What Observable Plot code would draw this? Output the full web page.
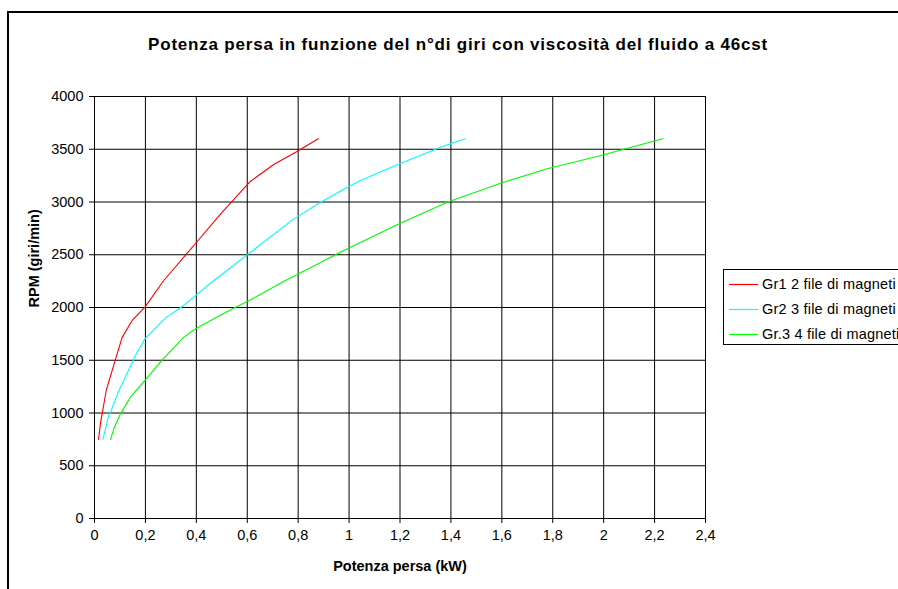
<!DOCTYPE html>
<html>
<head>
<meta charset="utf-8">
<script src="https://cdn.jsdelivr.net/npm/d3@7"></script>
<script src="https://cdn.jsdelivr.net/npm/@observablehq/plot@0.6"></script>
<style>
  html, body { margin: 0; padding: 0; background: #fff; overflow: hidden; }
  #wrap { position: relative; width: 898px; height: 589px; font-family: "Liberation Sans", Arial, sans-serif; }
  #frame { position: absolute; left: 7px; top: 11px; width: 1000px; height: 700px; border: 2px solid #000; box-sizing: border-box; }
  #title { position: absolute; left: 0; width: 916px; top: 35px; text-align: center; font-weight: bold; font-size: 17px; letter-spacing: 0.8px; color: #000; white-space: nowrap; }
  #chart { position: absolute; left: 0; top: 0; }
  #legend { position: absolute; left: 723px; top: 269px; width: 300px; height: 76px; border: 1px solid #000; box-sizing: border-box; background: #fff; }
  #legend svg { position: absolute; left: 0; top: 0; }
</style>
</head>
<body>
<div id="wrap">
  <div id="frame"></div>
  <div id="chart"></div>
  <div id="title">Potenza persa in funzione del n°di giri con viscosità del fluido a 46cst</div>
  <div id="legend"></div>
</div>
<script>
const seriesNames = ["Gr1 2 file di magneti", "Gr2 3 file di magneti", "Gr.3 4 file di magneti"];
const seriesColors = ["#ff0000", "#00ffff", "#00ff00"];

const gr1Kw  = [0.016, 0.024, 0.030, 0.046, 0.085, 0.109, 0.148, 0.198, 0.272, 0.400, 0.500, 0.613, 0.704, 0.790, 0.879];
const gr1Rpm = [750, 913, 992, 1213, 1529, 1719, 1877, 2003, 2256, 2616, 2900, 3197, 3355, 3472, 3600];

const gr2Kw  = [0.033, 0.056, 0.063, 0.096, 0.161, 0.198, 0.279, 0.344, 0.469, 0.613, 0.783, 0.888, 0.993, 1.045, 1.182, 1.359, 1.455];
const gr2Rpm = [750, 976, 1008, 1213, 1545, 1703, 1902, 2009, 2256, 2524, 2840, 2998, 3140, 3204, 3346, 3519, 3600];

const gr3Kw  = [0.063, 0.076, 0.102, 0.141, 0.200, 0.266, 0.351, 0.397, 0.456, 0.554, 0.613, 0.750, 0.979, 1.182, 1.385, 1.595, 1.778, 1.974, 2.086, 2.232];
const gr3Rpm = [750, 850, 992, 1150, 1315, 1504, 1719, 1798, 1877, 2003, 2073, 2256, 2540, 2777, 2998, 3178, 3315, 3431, 3504, 3600];

const xTicks = [0, 0.2, 0.4, 0.6, 0.8, 1, 1.2, 1.4, 1.6, 1.8, 2, 2.2, 2.4];
const yTicks = [0, 500, 1000, 1500, 2000, 2500, 3000, 3500, 4000];
const xLabel = "Potenza persa (kW)";
const yLabel = "RPM (giri/min)";

const groups = [[gr1Kw, gr1Rpm], [gr2Kw, gr2Rpm], [gr3Kw, gr3Rpm]];
const data = groups.flatMap(([kw, rpm], i) => kw.map((k, j) => ({ kw: k, rpm: rpm[j], s: seriesNames[i] })));

const fmtX = d => String(d).replace(".", ",");
const fmtY = d => String(d);

const plot = Plot.plot({
  width: 898,
  height: 589,
  marginLeft: 94,
  marginRight: 193,
  marginTop: 96,
  marginBottom: 71,
  style: { fontFamily: '"Liberation Sans", Arial, sans-serif', fontSize: "14.5px", color: "#000", background: "transparent" },
  x: { domain: [0, 2.4], ticks: xTicks, tickFormat: fmtX, label: null },
  y: { domain: [0, 4000], ticks: yTicks, tickFormat: fmtY, label: null },
  color: { domain: seriesNames, range: seriesColors },
  marks: [
    Plot.gridX(xTicks, { stroke: "#000", strokeOpacity: 1 }),
    Plot.gridY(yTicks, { stroke: "#000", strokeOpacity: 1 }),
    Plot.axisX({ ticks: xTicks, tickFormat: fmtX, tickSize: 5, tickPadding: 6, fontSize: 14.5, label: null }),
    Plot.axisY({ ticks: yTicks, tickFormat: fmtY, tickSize: 5, tickPadding: 6, fontSize: 14.5, label: null }),
    Plot.ruleY([0], { stroke: "#000" }),
    Plot.ruleX([0], { stroke: "#000" }),
    Plot.line(data, { x: "kw", y: "rpm", z: "s", stroke: "s", strokeWidth: 1.1 }),
    Plot.text([xLabel], { frameAnchor: "bottom", dy: 52, fontWeight: "bold", fontSize: 14.5, letterSpacing: "0.5px" }),
    Plot.text([yLabel], { frameAnchor: "left", dx: -60, rotate: -90, fontWeight: "bold", fontSize: 14.5 })
  ]
});
document.getElementById("chart").appendChild(plot);

// Legend (drawn as a small SVG)
const ns = "http://www.w3.org/2000/svg";
const lsvg = document.createElementNS(ns, "svg");
lsvg.setAttribute("width", "300");
lsvg.setAttribute("height", "76");
seriesNames.forEach((n, i) => {
  const cy = 14 + i * 25;
  const ln = document.createElementNS(ns, "line");
  ln.setAttribute("x1", "5"); ln.setAttribute("x2", "34");
  ln.setAttribute("y1", cy + 0.5); ln.setAttribute("y2", cy + 0.5);
  ln.setAttribute("stroke", seriesColors[i]);
  ln.setAttribute("stroke-width", "1.2");
  lsvg.appendChild(ln);
  const t = document.createElementNS(ns, "text");
  t.setAttribute("x", "38");
  t.setAttribute("y", cy);
  t.setAttribute("dy", "0.35em");
  t.setAttribute("font-family", '"Liberation Sans", Arial, sans-serif');
  t.setAttribute("font-size", "14.5");
  t.setAttribute("letter-spacing", "0.2");
  t.setAttribute("fill", "#000");
  t.textContent = n;
  lsvg.appendChild(t);
});
document.getElementById("legend").appendChild(lsvg);
</script>
</body>
</html>
